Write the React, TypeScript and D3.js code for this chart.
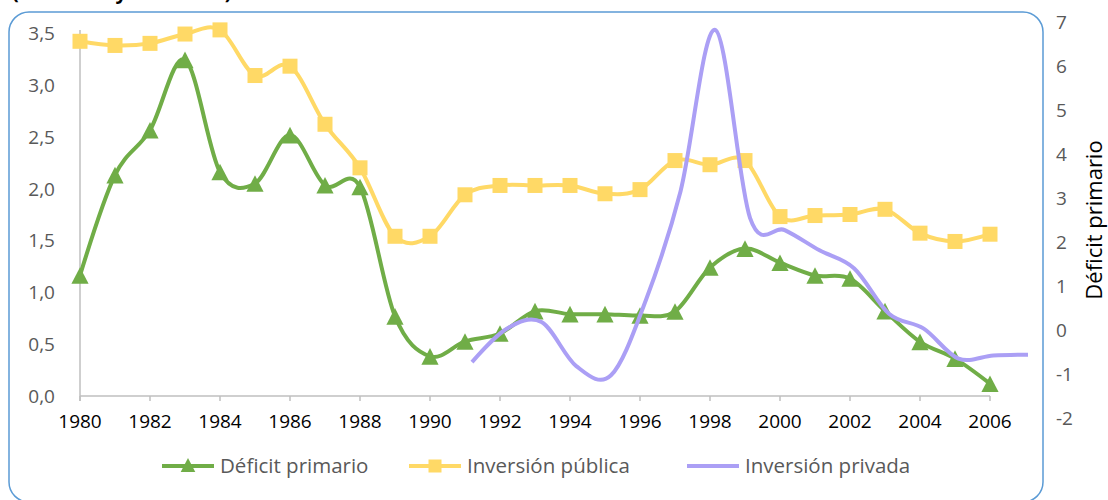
import React from "react";
import * as d3 from "d3";

// Categories (primary horizontal axis)
const years = [
  1980, 1981, 1982, 1983, 1984, 1985, 1986, 1987, 1988, 1989, 1990, 1991, 1992, 1993,
  1994, 1995, 1996, 1997, 1998, 1999, 2000, 2001, 2002, 2003, 2004, 2005, 2006,
];
// Déficit primario (secondary / right axis)
const deficitPrimario = [
  1.24, 3.52, 4.54, 6.14, 3.59, 3.33, 4.43, 3.29, 3.25, 0.31, -0.6, -0.26, -0.08, 0.43,
  0.36, 0.36, 0.33, 0.42, 1.42, 1.85, 1.53, 1.24, 1.17, 0.43, -0.27, -0.65, -1.22,
];
// Inversión pública (primary / left axis)
const inversionPublica = [
  3.42, 3.38, 3.4, 3.49, 3.53, 3.09, 3.18, 2.62, 2.2, 1.54, 1.54, 1.94, 2.03, 2.03,
  2.03, 1.95, 1.99, 2.27, 2.23, 2.27, 1.73, 1.74, 1.75, 1.8, 1.57, 1.49, 1.56,
];
// Inversión privada (secondary axes)
const privYears = [
  1991, 1992, 1993, 1994, 1995, 1996, 1997, 1998, 1999, 2000, 2001, 2002, 2003, 2004,
  2005, 2006, 2007,
];
const inversionPrivada = [
  -0.73, 0.03, 0.18, -0.82, -1.03, 0.67, 3.15, 6.82, 2.55, 2.27, 1.81, 1.4, 0.37, 0.03,
  -0.65, -0.58, -0.56,
];

const xTickYears = [1980, 1982, 1984, 1986, 1988, 1990, 1992, 1994, 1996, 1998, 2000, 2002, 2004, 2006];
const leftTicks = [0, 0.5, 1, 1.5, 2, 2.5, 3, 3.5];
const rightTicks = [-2, -1, 0, 1, 2, 3, 4, 5, 6, 7];
const seriesNames = ["Déficit primario", "Inversión pública", "Inversión privada"];
const rightAxisTitle = "Déficit primario";
const chartTitle = "(% del PIB y variación)";

const GREEN = "#70ad47";
const YELLOW = "#ffd966";
const PURPLE = "#ab9ff5";
const AXIS = "#bfbfbf";
const FONT = "'Open Sans', 'Liberation Sans', sans-serif";

const tri = "M0,-8.3L8.6,8.3L-8.6,8.3Z";

export default function App() {
  const W = 1108;
  const H = 500;
  const x = d3.scaleLinear().domain([1980, 2006]).range([80, 990]);
  const x2 = d3.scaleLinear().domain([1991, 2007]).range([472, 1028]);
  const yL = d3.scaleLinear().domain([0, 3.5]).range([396, 33]);
  const yR = d3.scaleLinear().domain([-2, 7]).range([418, 22]);
  const curve = d3.curveCatmullRom.alpha(0);

  const lineDef = d3
    .line<number>()
    .x((_, i) => x(years[i]))
    .y((d) => yR(d))
    .curve(curve);
  const linePub = d3
    .line<number>()
    .x((_, i) => x(years[i]))
    .y((d) => yL(d))
    .curve(curve);
  const linePriv = d3
    .line<number>()
    .x((_, i) => x2(privYears[i]))
    .y((d) => yR(d))
    .curve(curve);

  const fmtL = (v: number) => d3.format(".1f")(v).replace(".", ",");
  const axisY = yL(0);

  const legendY = 466;
  const legendItems = [
    { name: seriesNames[0], color: GREEN, x0: 162, marker: "tri" },
    { name: seriesNames[1], color: YELLOW, x0: 409, marker: "sq" },
    { name: seriesNames[2], color: PURPLE, x0: 687, marker: "none" },
  ];

  return (
    <svg
      width={W}
      height={H}
      style={{ position: "absolute", left: 0, top: 0, background: "#fff" }}
      fontFamily={FONT}
    >
      <text x={12} y={-1} fontSize={20} fontWeight="bold" fill="#000">
        {chartTitle}
      </text>
      <rect x={9} y={12} width={1034} height={490} rx={20} ry={20} fill="#fff" stroke="#5b9bd5" strokeWidth={1.5} />

      {/* axes */}
      <line x1={x(1980)} x2={x(1980)} y1={yL(3.5) - 3} y2={axisY + 5} stroke={AXIS} strokeWidth={1.5} />
      <line x1={x(1980)} x2={x(2006)} y1={axisY} y2={axisY} stroke={AXIS} strokeWidth={1.5} />
      {xTickYears.map((t) => (
        <g key={t}>
          <line x1={x(t)} x2={x(t)} y1={axisY} y2={axisY + 5} stroke={AXIS} strokeWidth={1.5} />
          <text x={x(t)} y={axisY + 32} textAnchor="middle" fontSize={19} fill="#000">
            {t}
          </text>
        </g>
      ))}
      {leftTicks.map((t) => (
        <text key={t} x={55} y={yL(t) + 7} textAnchor="end" fontSize={19} fill="#595959">
          {fmtL(t)}
        </text>
      ))}
      {rightTicks.map((t) => (
        <text key={t} x={1056} y={yR(t) + 7} textAnchor="start" fontSize={19} fill="#595959">
          {t}
        </text>
      ))}
      <text
        transform={`translate(1102,${(yR(7) + yR(-2)) / 2}) rotate(-90)`}
        textAnchor="middle"
        fontSize={22}
        fill="#000"
      >
        {rightAxisTitle}
      </text>

      {/* series */}
      <path d={linePub(inversionPublica) || ""} fill="none" stroke={YELLOW} strokeWidth={4} strokeLinejoin="round" />
      {inversionPublica.map((v, i) => (
        <rect key={i} x={x(years[i]) - 7.5} y={yL(v) - 7.5} width={15} height={15} fill={YELLOW} />
      ))}
      <path d={lineDef(deficitPrimario) || ""} fill="none" stroke={GREEN} strokeWidth={4} strokeLinejoin="round" />
      {deficitPrimario.map((v, i) => (
        <path key={i} d={tri} transform={`translate(${x(years[i])},${yR(v)})`} fill={GREEN} />
      ))}
      <path d={linePriv(inversionPrivada) || ""} fill="none" stroke={PURPLE} strokeWidth={4} strokeLinejoin="round" />

      {/* legend */}
      {legendItems.map((it) => (
        <g key={it.name}>
          <line x1={it.x0} x2={it.x0 + 52} y1={legendY} y2={legendY} stroke={it.color} strokeWidth={4} />
          {it.marker === "tri" && (
            <path d={tri} transform={`translate(${it.x0 + 26},${legendY - 1}) scale(0.85)`} fill={it.color} />
          )}
          {it.marker === "sq" && (
            <rect x={it.x0 + 26 - 6.5} y={legendY - 6.5} width={13} height={13} fill={it.color} />
          )}
          <text x={it.x0 + 58} y={legendY + 7} fontSize={20.5} fill="#595959">
            {it.name}
          </text>
        </g>
      ))}
    </svg>
  );
}
